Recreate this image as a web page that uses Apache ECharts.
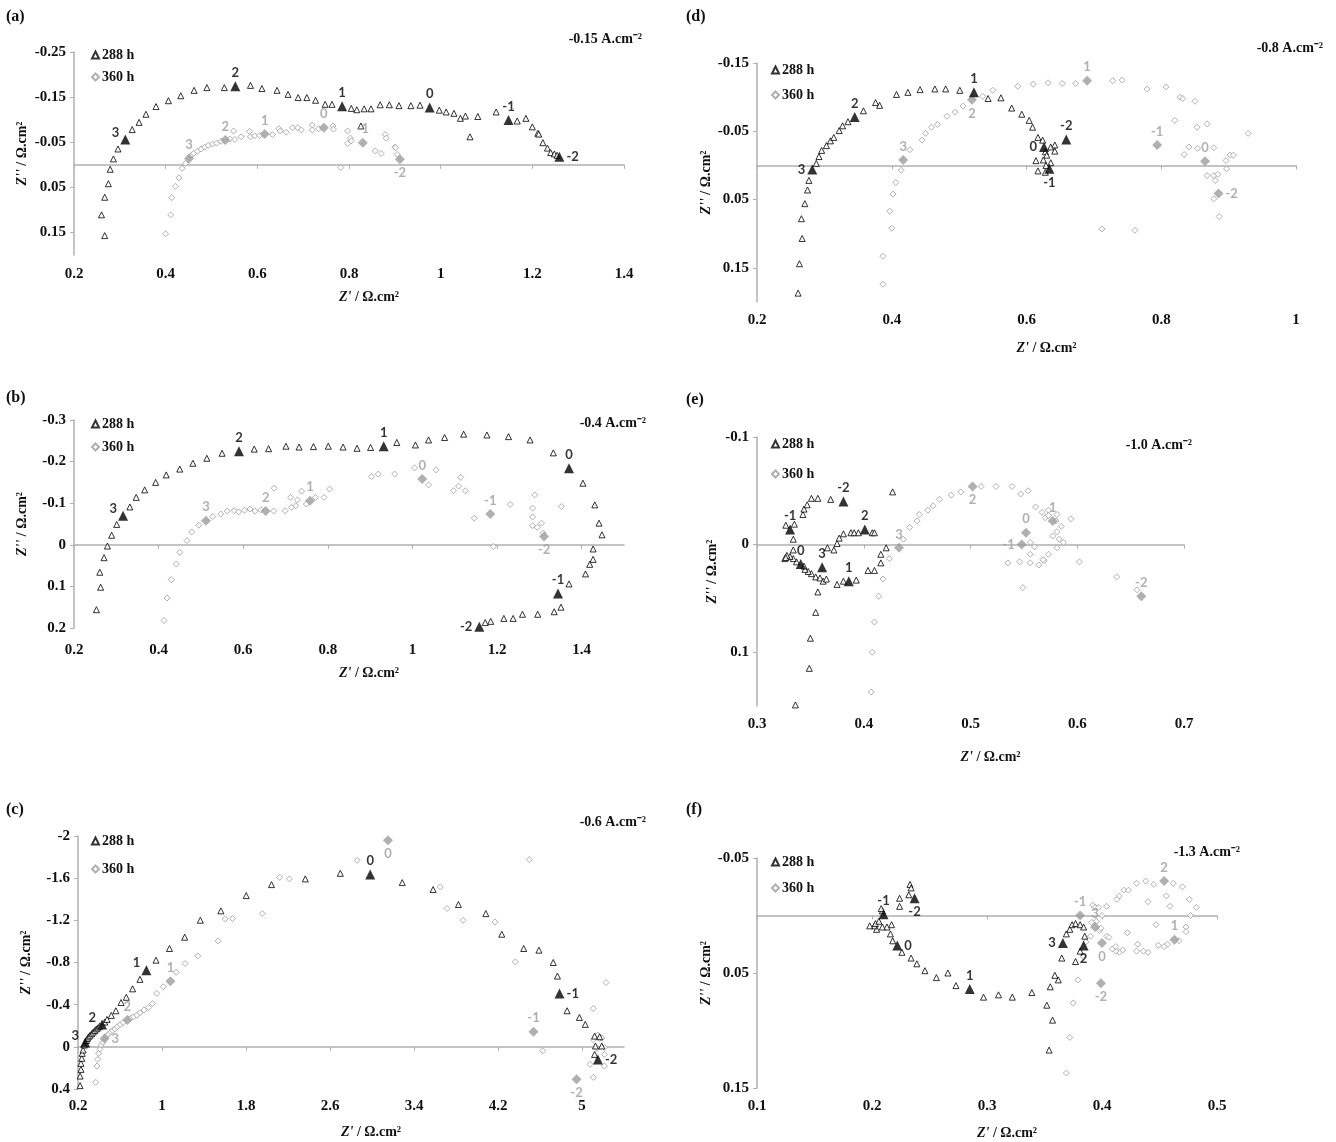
<!DOCTYPE html>
<html>
<head>
<meta charset="utf-8">
<script src="https://cdn.jsdelivr.net/npm/echarts@6/dist/echarts.min.js"></script>
<style>
  html, body { margin: 0; padding: 0; background: #fff; }
  #container { width: 1336px; height: 1142px; }
</style>
</head>
<body>
<div id="container"></div>
<script>
// (a) -0.15 A.cm-2
const a288 = [
  [0.267, 0.157], [0.26, 0.111], [0.267, 0.072], [0.275, 0.042], [0.279, 0.010], [0.286, -0.013], [0.296, -0.035],
  [0.327, -0.078], [0.342, -0.094], [0.357, -0.112], [0.379, -0.129], [0.406, -0.142], [0.433, -0.153], [0.462, -0.165],
  [0.49, -0.171], [0.528, -0.171], [0.585, -0.176], [0.61, -0.169], [0.643, -0.165], [0.667, -0.156], [0.689, -0.149],
  [0.708, -0.149], [0.727, -0.143], [0.748, -0.134], [0.763, -0.134], [0.805, -0.125], [0.817, -0.122], [0.833, -0.124],
  [0.848, -0.124], [0.868, -0.133], [0.888, -0.133], [0.909, -0.131], [0.935, -0.131], [0.955, -0.132], [0.826, -0.086],
  [0.997, -0.121], [1.012, -0.117], [1.029, -0.114], [1.043, -0.103], [1.054, -0.108], [1.081, -0.107], [1.064, -0.062],
  [1.121, -0.117], [1.167, -0.097], [1.186, -0.103], [1.2, -0.084], [1.212, -0.07], [1.214, -0.068], [1.223, -0.049],
  [1.233, -0.037], [1.24, -0.027], [1.248, -0.024], [1.254, -0.021]
];
const a288Key = [[0.312, -0.056, '3'], [0.552, -0.174, '2'], [0.785, -0.130, '1'], [0.976, -0.127, '0'], [1.148, -0.099, '-1'], [1.259, -0.018, '-2']];
const a360 = [
  [0.4, 0.153], [0.411, 0.111], [0.413, 0.073], [0.421, 0.048], [0.429, 0.029], [0.436, 0.008], [0.443, -0.003],
  [0.455, -0.02], [0.461, -0.025], [0.469, -0.03], [0.477, -0.035], [0.485, -0.039], [0.493, -0.043], [0.502, -0.046],
  [0.511, -0.048], [0.521, -0.052], [0.54, -0.057], [0.548, -0.075], [0.551, -0.056], [0.565, -0.062], [0.583, -0.074],
  [0.585, -0.062], [0.594, -0.064], [0.605, -0.065], [0.633, -0.067], [0.647, -0.08], [0.65, -0.075], [0.663, -0.072],
  [0.677, -0.082], [0.688, -0.082], [0.696, -0.077], [0.72, -0.088], [0.72, -0.077], [0.734, -0.08], [0.765, -0.086],
  [0.766, -0.079], [0.782, 0.006], [0.797, -0.075], [0.797, -0.047], [0.803, -0.059], [0.805, -0.053], [0.857, -0.031],
  [0.87, -0.025], [0.879, -0.067], [0.881, -0.059], [0.9, -0.039], [0.902, -0.038], [0.905, -0.023]
];
const a360Key = [[0.451, -0.014, '3'], [0.53, -0.055, '2'], [0.616, -0.068, '1'], [0.745, -0.082, '0'], [0.83, -0.049, '-1'], [0.911, -0.012, '-2']];
const aXTicks = [0.2, 0.4, 0.6, 0.8, 1, 1.2, 1.4];
const aYTicks = [-0.25, -0.15, -0.05, 0.05, 0.15];

// (b) -0.4 A.cm-2
const b288 = [
  [0.253, 0.156], [0.263, 0.102], [0.261, 0.066], [0.271, 0.031], [0.279, 0.003], [0.289, -0.023], [0.301, -0.049],
  [0.332, -0.091], [0.347, -0.114], [0.367, -0.132], [0.393, -0.15], [0.418, -0.168], [0.45, -0.182], [0.481, -0.196],
  [0.514, -0.208], [0.55, -0.22], [0.626, -0.23], [0.66, -0.231], [0.701, -0.237], [0.732, -0.235], [0.766, -0.236],
  [0.801, -0.237], [0.836, -0.235], [0.869, -0.232], [0.901, -0.234], [0.963, -0.246], [1.007, -0.24], [1.038, -0.252],
  [1.076, -0.258], [1.121, -0.266], [1.176, -0.264], [1.227, -0.26], [1.278, -0.252], [1.333, -0.221], [1.403, -0.148],
  [1.431, -0.096], [1.441, -0.052], [1.448, -0.024], [1.427, 0.01], [1.427, 0.035], [1.419, 0.047], [1.409, 0.07],
  [1.37, 0.094], [1.351, 0.15], [1.335, 0.161], [1.296, 0.167], [1.26, 0.167], [1.238, 0.177], [1.216, 0.177],
  [1.185, 0.184], [1.172, 0.187]
];
const b288Key = [[0.316, -0.07, '3'], [0.59, -0.225, '2'], [0.932, -0.237, '1'], [1.37, -0.184, '0'], [1.344, 0.117, '-1'], [1.158, 0.197, '-2']];
const b360 = [
  [0.413, 0.182], [0.42, 0.128], [0.43, 0.084], [0.442, 0.046], [0.45, 0.018], [0.467, -0.01], [0.478, -0.031],
  [0.495, -0.047], [0.528, -0.068], [0.547, -0.074], [0.562, -0.081], [0.579, -0.082], [0.589, -0.079], [0.603, -0.083],
  [0.616, -0.086], [0.628, -0.081], [0.642, -0.084], [0.673, -0.136], [0.672, -0.081], [0.699, -0.082], [0.712, -0.114],
  [0.714, -0.09], [0.724, -0.094], [0.728, -0.108], [0.738, -0.129], [0.749, -0.098], [0.771, -0.114], [0.791, -0.114],
  [0.804, -0.134], [0.903, -0.164], [0.919, -0.17], [0.958, -0.17], [1.005, -0.185], [1.038, -0.144], [1.056, -0.18],
  [1.097, -0.13], [1.109, -0.141], [1.114, -0.162], [1.125, -0.13], [1.146, -0.064], [1.191, 0.004], [1.231, -0.097],
  [1.284, -0.088], [1.284, -0.067], [1.284, -0.046], [1.289, -0.12], [1.295, -0.042], [1.305, -0.052], [1.309, -0.028],
  [1.352, -0.092]
];
const b360Key = [[0.512, -0.058, '3'], [0.653, -0.081, '2'], [0.758, -0.106, '1'], [1.023, -0.158, '0'], [1.184, -0.074, '-1'], [1.311, -0.02, '-2']];
const bXTicks = [0.2, 0.4, 0.6, 0.8, 1, 1.2, 1.4];
const bYTicks = [-0.3, -0.2, -0.1, 0, 0.1, 0.2];

// (c) -0.6 A.cm-2
const c288 = [
  [0.22, 0.368], [0.22, 0.277], [0.228, 0.214], [0.228, 0.157], [0.236, 0.109], [0.24, 0.062], [0.248, 0.03], [0.26, -0.017],
  [0.28, -0.06], [0.29, -0.08], [0.30, -0.095], [0.315, -0.11], [0.33, -0.125], [0.345, -0.14], [0.36, -0.155],
  [0.375, -0.17], [0.39, -0.18], [0.405, -0.195], [0.455, -0.235], [0.477, -0.26], [0.517, -0.298], [0.561, -0.342],
  [0.61, -0.42], [0.66, -0.47], [0.72, -0.55], [0.79, -0.64], [0.943, -0.822], [1.071, -0.933], [1.216, -1.04],
  [1.365, -1.201], [1.561, -1.29], [1.802, -1.435], [2.043, -1.539], [2.365, -1.593], [2.698, -1.646], [3.288, -1.558],
  [3.582, -1.492], [3.823, -1.35], [4.084, -1.264], [4.236, -1.068], [4.445, -0.933], [4.59, -0.917], [4.726, -0.8],
  [4.766, -0.671], [4.858, -0.342], [4.975, -0.279], [5.031, -0.213], [5.12, -0.102], [5.128, -0.008], [5.188, -0.008],
  [5.168, -0.096], [5.12, 0.072]
];
const c288Key = [[0.268, -0.042, '3'], [0.429, -0.213, '2'], [0.851, -0.727, '1'], [2.983, -1.634, '0'], [4.786, -0.506, '-1'], [5.152, 0.119, '-2']];
const c360 = [
  [0.369, 0.337], [0.381, 0.182], [0.389, 0.119], [0.397, 0.062], [0.409, 0.024], [0.421, -0.017], [0.437, -0.042],
  [0.47, -0.1], [0.49, -0.12], [0.51, -0.14], [0.53, -0.155], [0.55, -0.17], [0.575, -0.19], [0.6, -0.21], [0.63, -0.23],
  [0.70, -0.27], [0.729, -0.285], [0.76, -0.3], [0.79, -0.323], [0.83, -0.35], [0.871, -0.374], [0.91, -0.41],
  [0.951, -0.507], [1.012, -0.57], [1.136, -0.708], [1.22, -0.79], [1.341, -0.863], [1.534, -1.005], [1.602, -1.214],
  [1.671, -1.217], [1.955, -1.264], [2.12, -1.608], [2.213, -1.593], [2.859, -1.769], [3.65, -1.517], [3.715, -1.312],
  [3.867, -1.201], [4.172, -1.185], [4.365, -0.806], [4.498, -1.776], [4.626, 0.037], [5.108, -0.364], [5.229, -0.61],
  [5.152, -0.111], [5.168, -0.08], [5.19, -0.083], [5.213, 0.006], [5.144, 0.015], [5.108, -0.067], [5.213, 0.072],
  [5.213, 0.182], [5.108, 0.29], [5.076, 0.166]
];
const c360Key = [[0.453, -0.08, '3'], [0.67, -0.254, '2'], [1.08, -0.623, '1'], [3.152, -1.959, '0'], [4.538, -0.143, '-1'], [4.948, 0.308, '-2']];
const cXTicks = [0.2, 1, 1.8, 2.6, 3.4, 4.2, 5];
const cYTicks = [-2, -1.6, -1.2, -0.8, -0.4, 0, 0.4];

// (d) -0.8 A.cm-2
const d288 = [
  [0.261, 0.187], [0.263, 0.144], [0.267, 0.107], [0.266, 0.078], [0.271, 0.056], [0.275, 0.036], [0.277, 0.022],
  [0.288, -0.003], [0.292, -0.013], [0.296, -0.022], [0.303, -0.029], [0.309, -0.036], [0.314, -0.041], [0.322, -0.051],
  [0.327, -0.058], [0.335, -0.064], [0.358, -0.08], [0.376, -0.092], [0.382, -0.088], [0.407, -0.104], [0.424, -0.107],
  [0.442, -0.111], [0.464, -0.112], [0.48, -0.112], [0.501, -0.11], [0.543, -0.098], [0.562, -0.099], [0.578, -0.084],
  [0.593, -0.075], [0.604, -0.066], [0.609, -0.056], [0.617, -0.041], [0.624, -0.037], [0.628, -0.02], [0.63, -0.015],
  [0.614, -0.007], [0.625, -0.008], [0.629, 0], [0.636, -0.004], [0.617, 0.008], [0.628, 0.01], [0.636, -0.027],
  [0.642, -0.03], [0.642, -0.021]
];
const d288Key = [[0.282, 0.006, '3'], [0.345, -0.071, '2'], [0.522, -0.107, '1'], [0.626, -0.027, '0'], [0.634, 0.005, '-1'], [0.659, -0.038, '-2']];
const d360 = [
  [0.387, 0.174], [0.387, 0.133], [0.4, 0.092], [0.397, 0.067], [0.402, 0.042], [0.406, 0.025], [0.414, 0.007],
  [0.427, -0.023], [0.445, -0.037], [0.45, -0.047], [0.459, -0.056], [0.468, -0.06], [0.482, -0.072], [0.494, -0.078],
  [0.506, -0.087], [0.535, -0.101], [0.55, -0.11], [0.587, -0.116], [0.61, -0.119], [0.632, -0.121], [0.653, -0.12],
  [0.673, -0.12], [0.728, -0.124], [0.742, -0.125], [0.779, -0.112], [0.807, -0.115], [0.828, -0.1], [0.832, -0.098],
  [0.85, -0.094], [0.82, -0.066], [0.853, -0.056], [0.868, -0.061], [0.929, -0.047], [0.841, -0.027], [0.834, -0.016],
  [0.854, -0.025], [0.878, -0.026], [0.896, -0.007], [0.902, -0.015], [0.907, -0.015], [0.868, 0.015], [0.878, 0.015],
  [0.884, 0.013], [0.88, 0.022], [0.897, 0.005], [0.878, 0.049], [0.886, 0.075], [0.712, 0.093], [0.761, 0.095]
];
const d360Key = [[0.417, -0.008, '3'], [0.519, -0.096, '2'], [0.69, -0.124, '1'], [0.794, -0.03, '-1'], [0.865, -0.006, '0'], [0.885, 0.041, '-2']];
const dXTicks = [0.2, 0.4, 0.6, 0.8, 1];
const dYTicks = [-0.15, -0.05, 0.05, 0.15];

// (e) -1.0 A.cm-2
const e288 = [
  [0.336, 0.149], [0.349, 0.115], [0.35, 0.087], [0.355, 0.063], [0.357, 0.044], [0.351, 0.027], [0.355, 0.03],
  [0.359, 0.031], [0.362, 0.034], [0.365, 0.032], [0.375, 0.037], [0.381, 0.034], [0.393, 0.033], [0.404, 0.024],
  [0.41, 0.024], [0.416, 0.017], [0.416, 0.009], [0.421, 0.003], [0.348, 0.025], [0.345, 0.023], [0.344, 0.02],
  [0.337, 0.016], [0.334, 0.013], [0.331, 0.011], [0.328, 0.01], [0.326, 0.013], [0.327, 0.012], [0.334, 0.005],
  [0.334, -0.005], [0.335, -0.019], [0.327, -0.018], [0.343, -0.028], [0.344, -0.033], [0.347, -0.037], [0.351, -0.043],
  [0.357, -0.043], [0.369, -0.042], [0.427, -0.049], [0.366, 0.003], [0.372, 0.005], [0.375, -0.001], [0.377, -0.006],
  [0.381, -0.01], [0.388, -0.011], [0.391, -0.011], [0.395, -0.011], [0.408, -0.011], [0.41, -0.011]
];
const e288Key = [[0.331, -0.014, '-1'], [0.341, 0.018, '0'], [0.361, 0.021, '3'], [0.386, 0.034, '1'], [0.401, -0.014, '2'], [0.381, -0.04, '-2']];
const e360 = [
  [0.407, 0.137], [0.408, 0.1], [0.41, 0.072], [0.414, 0.048], [0.418, 0.032], [0.424, 0.013], [0.437, -0.005],
  [0.443, -0.016], [0.45, -0.022], [0.452, -0.028], [0.46, -0.032], [0.465, -0.036], [0.471, -0.042], [0.482, -0.046],
  [0.491, -0.049], [0.51, -0.054], [0.524, -0.054], [0.539, -0.054], [0.547, -0.047], [0.554, -0.05], [0.561, -0.035],
  [0.567, -0.03], [0.57, -0.025], [0.573, -0.032], [0.573, -0.027], [0.581, -0.028], [0.58, -0.022], [0.585, -0.017],
  [0.594, -0.024], [0.577, -0.008], [0.581, -0.012], [0.583, -0.005], [0.587, -0.002], [0.581, 0.003], [0.556, -0.002],
  [0.56, 0.002], [0.535, 0.017], [0.546, 0.016], [0.556, 0.009], [0.556, 0.017], [0.564, 0.019], [0.569, 0.015],
  [0.573, 0.009], [0.568, 0.014], [0.549, 0.04], [0.602, 0.016], [0.637, 0.03], [0.656, 0.042]
];
const e360Key = [[0.433, 0.003, '3'], [0.502, -0.054, '2'], [0.552, -0.011, '0'], [0.548, 0, '-1'], [0.577, -0.022, '1'], [0.66, 0.048, '-2']];
const eXTicks = [0.3, 0.4, 0.5, 0.6, 0.7];
const eYTicks = [-0.1, 0, 0.1];

// (f) -1.3 A.cm-2
const f288 = [
  [0.354, 0.117], [0.357, 0.091], [0.352, 0.078], [0.355, 0.062], [0.359, 0.052], [0.362, 0.056], [0.339, 0.067],
  [0.322, 0.071], [0.31, 0.069], [0.297, 0.071], [0.273, 0.061], [0.266, 0.05], [0.256, 0.054], [0.246, 0.048],
  [0.239, 0.042], [0.234, 0.037], [0.226, 0.032], [0.218, 0.022], [0.216, 0.016], [0.217, 0.008], [0.213, 0.01],
  [0.209, 0.01], [0.204, 0.012], [0.202, 0.009], [0.198, 0.009], [0.203, 0.007], [0.206, 0.005], [0.209, -0.004],
  [0.208, -0.006], [0.224, -0.008], [0.224, -0.015], [0.232, -0.018], [0.233, -0.027], [0.234, -0.024], [0.369, 0.016],
  [0.372, 0.012], [0.374, 0.008], [0.377, 0.007], [0.381, 0.008], [0.384, 0.01], [0.385, 0.018], [0.381, 0.031],
  [0.377, 0.04], [0.365, 0.037]
];
const f288Key = [[0.21, -0.001, '-1'], [0.237, -0.015, '-2'], [0.222, 0.026, '0'], [0.285, 0.064, '1'], [0.366, 0.024, '3'], [0.384, 0.026, '2']];
const f360 = [
  [0.369, 0.137], [0.372, 0.106], [0.375, 0.076], [0.379, 0.056], [0.384, 0.036], [0.386, 0.023], [0.39, 0.018],
  [0.391, 0.006], [0.395, 0.005], [0.392, -0.009], [0.394, -0.007], [0.398, 0.013], [0.399, 0.011], [0.404, 0.018],
  [0.406, 0.019], [0.404, -0.008], [0.413, -0.014], [0.415, -0.017], [0.419, -0.022], [0.423, -0.022], [0.43, -0.028],
  [0.438, -0.03], [0.445, -0.027], [0.462, -0.028], [0.47, -0.025], [0.476, -0.014], [0.482, -0.007], [0.477, 0],
  [0.473, 0.01], [0.473, 0.014], [0.467, 0.022], [0.457, 0.025], [0.454, 0.027], [0.449, 0.026], [0.447, 0.008],
  [0.44, -0.012], [0.456, -0.017], [0.459, -0.008], [0.44, 0.032], [0.436, 0.031], [0.43, 0.031], [0.431, 0.025],
  [0.422, 0.015], [0.418, 0.03], [0.415, 0.032], [0.412, 0.031], [0.409, 0.029], [0.412, 0.027], [0.4, 0], [0.397, -0.007]
];
const f360Key = [[0.381, 0, '-1'], [0.394, 0.01, '3'], [0.4, 0.024, '0'], [0.399, 0.059, '-2'], [0.454, -0.03, '2'], [0.463, 0.021, '1']];
const fXTicks = [0.1, 0.2, 0.3, 0.4, 0.5];
const fYTicks = [-0.05, 0.05, 0.15];

// ---- layout ----
const AXIS = '#b0b0b0';
const GREY = '#9c9c9c';
const SERIF = '"Liberation Serif", "Times New Roman", serif';
const LABELFONT = 'Lato, "Liberation Sans", sans-serif';

const panels = [
  { tag: '(a)', title: '-0.15 A.cm⁻²', tagPos: [6, 17], titlePos: [642, 39],
    left: 74, top: 52, width: 550, height: 203, xMin: 0.2, xMax: 1.4, yMin: -0.25, yMax: 0.2,
    xTicks: aXTicks, yTicks: aYTicks, xMargin: 12, xNameGap: 35, yNameGap: 45, legendTop: 48, legendLeft: 91, legendGap: 8,
    s288: a288, s360: a360, k288: a288Key, k360: a360Key,
    pos288: { '3': 'topLeft', '2': 'top', '1': 'top', '0': 'top', '-1': 'top', '-2': 'right' },
    pos360: { '3': 'top', '2': 'top', '1': 'top', '0': 'top', '-1': 'top', '-2': 'bottom' } },
  { tag: '(b)', title: '-0.4 A.cm⁻²', tagPos: [6, 398], titlePos: [646, 423],
    left: 74, top: 420, width: 550, height: 208, xMin: 0.2, xMax: 1.5, yMin: -0.3, yMax: 0.2,
    xTicks: bXTicks, yTicks: bYTicks, xMargin: 15, xNameGap: 38, yNameGap: 45, legendTop: 417, legendLeft: 91, legendGap: 9,
    s288: b288, s360: b360, k288: b288Key, k360: b360Key,
    pos288: { '3': 'topLeft', '2': 'top', '1': 'top', '0': 'top', '-1': 'top', '-2': 'left' },
    pos360: { '3': 'top', '2': 'top', '1': 'top', '0': 'top', '-1': 'top', '-2': 'bottom' } },
  { tag: '(c)', title: '-0.6 A.cm⁻²', tagPos: [6, 810], titlePos: [646, 822],
    left: 78, top: 836, width: 546, height: 253, xMin: 0.2, xMax: 5.4, yMin: -2, yMax: 0.4,
    xTicks: cXTicks, yTicks: cYTicks, xMargin: 10, xNameGap: 36, yNameGap: 45, legendTop: 834, legendLeft: 91, legendGap: 14,
    s288: c288, s360: c360, k288: c288Key, k360: c360Key,
    pos288: { '3': 'topLeft', '2': 'topLeft', '1': 'topLeft', '0': 'top', '-1': 'right', '-2': 'right' },
    pos360: { '3': 'right', '2': 'top', '1': 'top', '0': 'bottom', '-1': 'top', '-2': 'bottom' } },
  { tag: '(d)', title: '-0.8 A.cm⁻²', tagPos: [686, 17], titlePos: [1323, 48],
    left: 757, top: 63, width: 539, height: 239, xMin: 0.2, xMax: 1, yMin: -0.15, yMax: 0.2,
    xTicks: dXTicks, yTicks: dYTicks, xMargin: 11, xNameGap: 39, yNameGap: 44, legendTop: 63, legendLeft: 771, legendGap: 11,
    s288: d288, s360: d360, k288: d288Key, k360: d360Key,
    pos288: { '3': 'left', '2': 'top', '1': 'top', '0': 'left', '-1': 'bottom', '-2': 'top' },
    pos360: { '3': 'top', '2': 'bottom', '1': 'top', '-1': 'top', '0': 'top', '-2': 'right' } },
  { tag: '(e)', title: '-1.0 A.cm⁻²', tagPos: [686, 400], titlePos: [1192, 445],
    left: 757, top: 437, width: 427, height: 269, xMin: 0.3, xMax: 0.7, yMin: -0.1, yMax: 0.15,
    xTicks: eXTicks, yTicks: eYTicks, xMargin: 11, xNameGap: 44, yNameGap: 38, legendTop: 437, legendLeft: 771, legendGap: 16,
    s288: e288, s360: e360, k288: e288Key, k360: e360Key,
    pos288: { '-1': 'top', '0': 'top', '3': 'top', '1': 'top', '2': 'top', '-2': 'top' },
    pos360: { '3': 'top', '2': 'bottom', '0': 'top', '-1': 'left', '1': 'top', '-2': 'top' } },
  { tag: '(f)', title: '-1.3 A.cm⁻²', tagPos: [686, 810], titlePos: [1240, 852],
    left: 757, top: 858, width: 460, height: 230, xMin: 0.1, xMax: 0.5, yMin: -0.05, yMax: 0.15,
    xTicks: fXTicks, yTicks: fYTicks, xMargin: 11, xNameGap: 38, yNameGap: 40, legendTop: 855, legendLeft: 771, legendGap: 12,
    s288: f288, s360: f360, k288: f288Key, k360: f360Key,
    pos288: { '-1': 'top', '-2': 'bottom', '0': 'right', '1': 'top', '3': 'left', '2': 'bottom' },
    pos360: { '-1': 'top', '3': 'top', '0': 'bottom', '-2': 'bottom', '2': 'top', '1': 'top' } }
];

const tickFont = { fontFamily: SERIF, fontWeight: 'bold', fontSize: 15, color: '#111' };
const nameStyle = {
  fontFamily: SERIF, fontWeight: 'bold', fontSize: 14, color: '#111',
  rich: { i: { fontFamily: SERIF, fontWeight: 'bold', fontStyle: 'italic', fontSize: 14, color: '#111' } }
};

function keyLabel(pos, color) {
  const base = { show: true, color: color, fontFamily: LABELFONT, fontWeight: 'bold', fontSize: 13, distance: 2,
    formatter: (p) => p.value[2] };
  if (pos === 'topLeft') return Object.assign(base, { position: 'left', offset: [1, -7] });
  return Object.assign(base, { position: pos });
}

const grids = [], xAxes = [], yAxes = [], series = [], legends = [], graphics = [];

panels.forEach((p, i) => {
  grids.push({ left: p.left, top: p.top, width: p.width, height: p.height, containLabel: false, outerBoundsMode: 'none' });
  // zero line with tick marks
  xAxes.push({
    gridIndex: i, type: 'value', min: p.xMin, max: p.xMax, position: 'bottom',
    axisLine: { show: true, onZero: true, lineStyle: { color: AXIS, width: 1.5 } },
    axisTick: { show: true, customValues: p.xTicks, length: 4, lineStyle: { color: AXIS } },
    axisLabel: { show: false }, splitLine: { show: false }
  });
  // labels along the bottom
  xAxes.push({
    gridIndex: i, type: 'value', min: p.xMin, max: p.xMax, position: 'bottom',
    axisLine: { show: false, onZero: false }, axisTick: { show: false },
    axisLabel: Object.assign({ customValues: p.xTicks, margin: p.xMargin }, tickFont),
    splitLine: { show: false },
    name: "{i|Z'} / Ω.cm²", nameLocation: 'middle', nameGap: p.xNameGap,
    nameTextStyle: Object.assign({ padding: [0, 0, 0, 40] }, nameStyle)
  });
  yAxes.push({
    gridIndex: i, type: 'value', inverse: true, min: p.yMin, max: p.yMax,
    axisLine: { show: true, onZero: false, lineStyle: { color: AXIS, width: 1.5 } },
    axisTick: { show: true, customValues: p.yTicks, length: 4, lineStyle: { color: AXIS } },
    axisLabel: Object.assign({ customValues: p.yTicks, margin: 8 }, tickFont),
    splitLine: { show: false },
    name: "{i|Z''} / Ω.cm²", nameLocation: 'middle', nameRotate: 90, nameGap: p.yNameGap,
    nameTextStyle: nameStyle
  });
  series.push({
    name: '360 h', type: 'scatter', xAxisIndex: 2 * i, yAxisIndex: i, symbol: 'diamond', symbolSize: 6,
    itemStyle: { color: '#fff', borderColor: GREY, borderWidth: 1 }, data: p.s360, z: 2
  });
  series.push({
    name: '288 h', type: 'scatter', xAxisIndex: 2 * i, yAxisIndex: i, symbol: 'triangle', symbolSize: 6,
    itemStyle: { color: '#fff', borderColor: '#000', borderWidth: 1 }, data: p.s288, z: 3
  });
  series.push({
    name: '360 key', type: 'scatter', xAxisIndex: 2 * i, yAxisIndex: i, symbol: 'diamond', symbolSize: 10,
    itemStyle: { color: GREY }, z: 4,
    data: p.k360.map((d) => ({ value: d, label: keyLabel(p.pos360[d[2]], GREY) }))
  });
  series.push({
    name: '288 key', type: 'scatter', xAxisIndex: 2 * i, yAxisIndex: i, symbol: 'triangle', symbolSize: 10,
    itemStyle: { color: '#000' }, z: 5,
    data: p.k288.map((d) => ({ value: d, label: keyLabel(p.pos288[d[2]], '#000') }))
  });
  legends.push({
    data: ['288 h', '360 h'], orient: 'vertical', left: p.legendLeft, top: p.legendTop,
    itemWidth: 7, itemHeight: 7, itemGap: p.legendGap, padding: 0, selectedMode: false,
    textStyle: { fontFamily: SERIF, fontWeight: 'bold', fontSize: 14, color: '#111', padding: [0, 0, 0, -2] }
  });
  graphics.push({
    type: 'text', x: p.tagPos[0], y: p.tagPos[1],
    style: { text: p.tag, fontFamily: SERIF, fontWeight: 'bold', fontSize: 16, fill: '#111', align: 'left', verticalAlign: 'middle' }
  });
  graphics.push({
    type: 'text', x: p.titlePos[0], y: p.titlePos[1],
    style: { text: p.title, fontFamily: SERIF, fontWeight: 'bold', fontSize: 14, fill: '#111', align: 'right', verticalAlign: 'middle' }
  });
});

let dom = document.getElementById('container');
let myChart = echarts.init(dom, null, { renderer: 'canvas' });
let option = {
  animation: false,
  backgroundColor: '#fff',
  grid: grids,
  xAxis: xAxes,
  yAxis: yAxes,
  legend: legends,
  series: series,
  graphic: graphics
};
myChart.setOption(option);
window.addEventListener('resize', myChart.resize);
</script>
</body>
</html>
